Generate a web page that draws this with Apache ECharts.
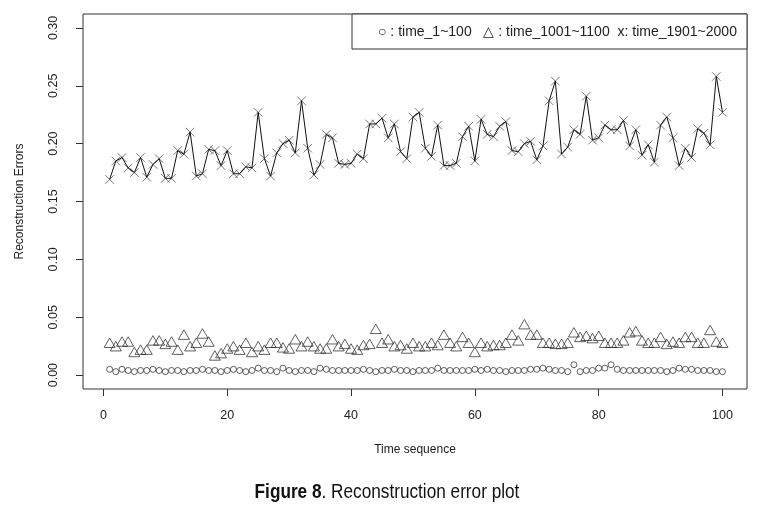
<!DOCTYPE html>
<html>
<head>
<meta charset="utf-8">
<script src="https://cdn.jsdelivr.net/npm/echarts@6/dist/echarts.min.js"></script>
<style>html,body{margin:0;padding:0;background:#fff}#c{width:767px;height:514px}</style>
</head>
<body>
<div id="c"></div>
<script>
// Time sequence 1..100
const timeSeq = Array.from({length: 100}, (_, i) => i + 1);

// o : time_1~100
const err_1_100 = [
0.005,0.003,0.005,0.004,0.003,0.004,0.004,0.005,0.004,0.003,
0.004,0.004,0.003,0.004,0.004,0.005,0.004,0.004,0.003,0.004,
0.005,0.004,0.003,0.004,0.006,0.004,0.004,0.003,0.006,0.004,
0.003,0.004,0.004,0.003,0.006,0.005,0.004,0.004,0.004,0.004,
0.004,0.005,0.004,0.003,0.004,0.004,0.005,0.004,0.004,0.003,
0.004,0.004,0.004,0.006,0.004,0.004,0.004,0.004,0.004,0.005,
0.004,0.005,0.004,0.004,0.003,0.004,0.004,0.004,0.005,0.005,
0.006,0.005,0.004,0.004,0.003,0.009,0.003,0.004,0.004,0.006,
0.006,0.009,0.005,0.004,0.004,0.004,0.004,0.004,0.004,0.004,
0.003,0.004,0.006,0.005,0.005,0.004,0.004,0.004,0.003,0.003
];

// triangle : time_1001~1100
const err_1001_1100 = [
0.028,0.025,0.029,0.029,0.020,0.022,0.022,0.030,0.030,0.027,
0.029,0.022,0.035,0.025,0.028,0.036,0.029,0.017,0.019,0.023,
0.025,0.022,0.028,0.020,0.025,0.022,0.028,0.028,0.024,0.023,
0.031,0.025,0.029,0.025,0.023,0.023,0.031,0.025,0.027,0.023,
0.022,0.026,0.027,0.040,0.028,0.031,0.025,0.026,0.023,0.028,
0.025,0.025,0.028,0.026,0.035,0.028,0.025,0.033,0.028,0.020,
0.028,0.025,0.026,0.026,0.028,0.035,0.030,0.044,0.035,0.035,
0.028,0.028,0.027,0.027,0.028,0.037,0.033,0.034,0.032,0.034,
0.028,0.028,0.028,0.030,0.037,0.038,0.030,0.028,0.028,0.033,
0.027,0.029,0.028,0.033,0.033,0.028,0.028,0.039,0.029,0.028
];

// x : time_1901~2000
const err_1901_2000 = [
0.169,0.185,0.188,0.179,0.175,0.188,0.171,0.182,0.187,0.170,
0.170,0.194,0.191,0.210,0.172,0.174,0.195,0.194,0.181,0.194,
0.174,0.174,0.180,0.179,0.227,0.187,0.172,0.192,0.200,0.203,
0.192,0.237,0.196,0.173,0.182,0.208,0.205,0.183,0.182,0.183,
0.191,0.187,0.217,0.217,0.222,0.205,0.217,0.193,0.187,0.223,
0.227,0.196,0.189,0.216,0.181,0.181,0.183,0.206,0.215,0.185,
0.221,0.208,0.206,0.215,0.219,0.194,0.193,0.200,0.202,0.186,
0.198,0.237,0.254,0.191,0.197,0.212,0.208,0.241,0.203,0.205,
0.216,0.212,0.212,0.220,0.198,0.212,0.190,0.199,0.184,0.216,
0.223,0.205,0.181,0.196,0.188,0.213,0.209,0.199,0.258,0.227
];

const xTicks = [0, 20, 40, 60, 80, 100];
const yTicks = [0, 0.05, 0.10, 0.15, 0.20, 0.25, 0.30];

const legendText = '\u25CB : time_1~100   \u25B3 : time_1001~1100  x: time_1901~2000';

const pairs = arr => arr.map((v, i) => [timeSeq[i], v]);

const FONT = "'Liberation Sans', Arial, sans-serif";
const INK = '#222';

const chart = echarts.init(document.getElementById('c'), null, {renderer: 'canvas'});
chart.setOption({
  animation: false,
  backgroundColor: '#fff',
  grid: {left: 83, right: 20, top: 14, bottom: 125, show: true, borderColor: '#333', borderWidth: 1, backgroundColor: 'transparent'},
  xAxis: {
    type: 'value', min: -3.3, max: 103.96,
    axisLine: {show: false, onZero: false},
    splitLine: {show: false},
    axisTick: {show: true, length: 7, customValues: xTicks, lineStyle: {color: '#333'}},
    axisLabel: {customValues: xTicks, margin: 20, fontFamily: FONT, fontSize: 12.5, color: INK},
    name: 'Time sequence', nameLocation: 'middle', nameGap: 55,
    nameTextStyle: {fontFamily: FONT, fontSize: 12, color: INK}
  },
  yAxis: {
    type: 'value', min: -0.012, max: 0.312,
    axisLine: {show: false, onZero: false},
    splitLine: {show: false},
    axisTick: {show: true, length: 7, customValues: yTicks, lineStyle: {color: '#333'}},
    axisLabel: {customValues: yTicks, rotate: 90, margin: 23, fontFamily: FONT, fontSize: 12.5, color: INK,
      formatter: v => v.toFixed(2)},
    name: 'Reconstruction Errors', nameLocation: 'middle', nameGap: 57, nameRotate: 90,
    nameTextStyle: {fontFamily: FONT, fontSize: 12, color: INK}
  },
  graphic: [
    {type: 'rect', shape: {x: 352, y: 14, width: 395, height: 35}, style: {fill: '#fff', stroke: '#333', lineWidth: 1}, z: 100},
    {type: 'text', x: 378, y: 32, style: {text: legendText, font: '14px ' + FONT, fill: INK, verticalAlign: 'middle'}, z: 101},
    {type: 'text', x: 387, y: 492, scaleX: 0.86, originX: 0,
      style: {
        text: '{b|Figure 8}{n|. Reconstruction error plot}',
        align: 'center', verticalAlign: 'middle',
        rich: {
          b: {fontFamily: FONT, fontWeight: 'bold', fontSize: 20, fill: '#111'},
          n: {fontFamily: FONT, fontWeight: 'normal', fontSize: 20, fill: '#111'}
        }
      }, z: 101}
  ],
  series: [
    {type: 'scatter', data: pairs(err_1_100), symbol: 'circle', symbolSize: 6,
      itemStyle: {color: 'rgba(0,0,0,0)', borderColor: '#222', borderWidth: 0.9}},
    {type: 'scatter', data: pairs(err_1001_1100), symbol: 'triangle', symbolSize: [11, 9.5],
      itemStyle: {color: 'rgba(0,0,0,0)', borderColor: '#222', borderWidth: 0.9}},
    {type: 'line', data: pairs(err_1901_2000), showSymbol: false, symbol: 'none',
      lineStyle: {color: '#111', width: 1}},
    {type: 'scatter', data: pairs(err_1901_2000), symbol: 'circle', symbolSize: 12,
      itemStyle: {color: '#fff', borderWidth: 0}},
    {type: 'scatter', data: pairs(err_1901_2000), symbol: 'path://M0,0L10,10M0,10L10,0', symbolSize: 8.5,
      itemStyle: {color: 'rgba(0,0,0,0)', borderColor: '#555', borderWidth: 1}}
  ]
});
</script>
</body>
</html>
